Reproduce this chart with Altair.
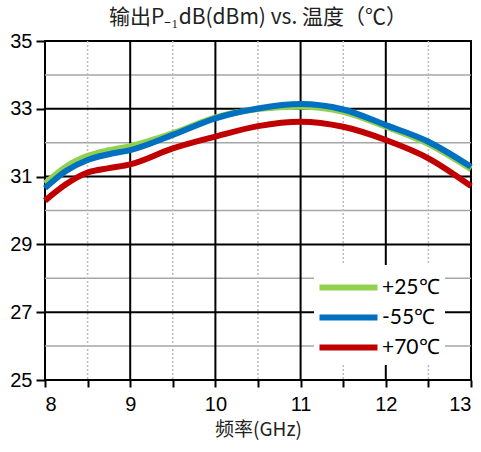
import altair as alt
import pandas as pd

freq = [8.0, 8.25, 8.5, 8.75, 9.0, 9.5, 10.0, 10.5, 11.0, 11.5, 12.0, 12.5, 13.0]
p_25 = [30.80, 31.30, 31.61, 31.78, 31.90, 32.28, 32.75, 32.99, 33.06, 32.91, 32.47, 31.96, 31.22]
p_m55 = [30.66, 31.17, 31.49, 31.66, 31.78, 32.23, 32.72, 33.01, 33.14, 32.98, 32.52, 32.03, 31.29]
p_70 = [30.29, 30.78, 31.12, 31.25, 31.36, 31.83, 32.18, 32.49, 32.62, 32.47, 32.08, 31.54, 30.72]
series = ["+25℃", "-55℃", "+70℃"]
colors = ["#92D050", "#0070C0", "#C00000"]

x_major = [9, 10, 11, 12]
x_minor = [8.5, 9.5, 10.5, 11.5, 12.5]
y_major = [27, 29, 31, 33]
y_minor = [26, 28, 30, 32, 34]
x_ticks = [8, 8.5, 9, 9.5, 10, 10.5, 11, 11.5, 12, 12.5, 13]
y_ticks = [25, 27, 29, 31, 33, 35]

rows = []
for name, vals in zip(series, [p_25, p_m55, p_70]):
    for f, v in zip(freq, vals):
        rows.append({"f": f, "p": v, "s": name})
df = pd.DataFrame(rows)

xs = alt.Scale(domain=[8, 13], nice=False, zero=False)
ys = alt.Scale(domain=[25, 35], nice=False, zero=False)

lines = alt.Chart(df).mark_line(strokeWidth=6, interpolate="monotone", strokeCap="butt").encode(
    x=alt.X("f:Q", scale=xs, title="频率(GHz)",
            axis=alt.Axis(values=x_ticks,
                          labelExpr="datum.value % 1 == 0 ? format(datum.value, 'd') : ''",
                          grid=False, domain=False, tickColor="black", tickSize=7, tickWidth=2,
                          labelFontSize=20, labelFont="Liberation Sans", labelColor="black",
                          labelPadding=7, titleFontSize=19, titleFont="Noto Sans CJK SC",
                          titleFontWeight="normal", titleColor="#222", titlePadding=6)),
    y=alt.Y("p:Q", scale=ys, title=None,
            axis=alt.Axis(values=y_ticks, grid=False, domain=False, tickColor="black",
                          tickSize=9, tickWidth=2, labelFontSize=20, labelFont="Liberation Sans",
                          labelColor="black", labelPadding=4)),
    color=alt.Color("s:N", scale=alt.Scale(domain=series, range=colors), sort=series,
                    legend=alt.Legend(title=None, orient="none", legendX=269, legendY=224,
                                      fillColor="white", symbolType="M-2,0L2,0",
                                      symbolStrokeWidth=6, symbolSize=841, symbolOffset=12,
                                      labelFontSize=21, labelFont="Lato",
                                      labelColor="black", rowPadding=0, padding=5,
                                      labelOffset=16)),
    order=alt.Order("s:N"),
)

gmin_y = alt.Chart(pd.DataFrame({"v": y_minor})).mark_rule(color="#a6a6a6", strokeWidth=1.5).encode(
    y=alt.Y("v:Q", scale=ys))
gmaj_y = alt.Chart(pd.DataFrame({"v": y_major})).mark_rule(color="black", strokeWidth=2).encode(
    y=alt.Y("v:Q", scale=ys))
gmin_x = alt.Chart(pd.DataFrame({"v": x_minor})).mark_rule(color="#bbbbbb", strokeWidth=1.5,
                                                             strokeDash=[2, 2]).encode(
    x=alt.X("v:Q", scale=xs))
gmaj_x = alt.Chart(pd.DataFrame({"v": x_major})).mark_rule(color="black", strokeWidth=2).encode(
    x=alt.X("v:Q", scale=xs))

chart = alt.layer(gmin_y, gmin_x, gmaj_y, gmaj_x, lines).properties(
    width=426, height=339,
    autosize=alt.AutoSizeParams(type="none"),
    padding={"left": 45, "top": 41, "right": 10, "bottom": 72},
    title=alt.Title("输出P₋₁dB(dBm) vs. 温度（℃）", fontSize=21, font="Noto Sans CJK SC",
                    fontWeight="normal", color="#222", offset=3),
    background="white",
).configure_view(stroke="black", strokeWidth=2)

chart.save("out.html", embed_options={"renderer": "svg", "actions": False})
